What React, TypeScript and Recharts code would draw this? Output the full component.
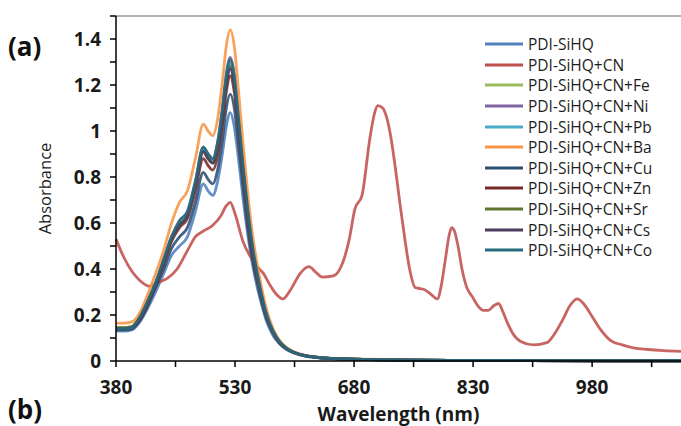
import React from 'react';
import { LineChart, Line, XAxis, YAxis, ReferenceLine } from 'recharts';

// Wavelength grid (nm) for the PDI-SiHQ family of spectra
const wavelengths = [380, 390, 400, 410, 420, 430, 440, 450, 460, 470, 480, 490, 496, 502, 508, 514, 519, 524, 529, 534, 540, 546, 552, 558, 564, 570, 578, 586, 595, 605, 620, 640, 670, 720, 800, 900, 1000, 1092];

const absPDI = [0.13, 0.13, 0.135, 0.17, 0.23, 0.30, 0.38, 0.46, 0.50, 0.54, 0.65, 0.77, 0.74, 0.72, 0.78, 0.90, 1.02, 1.08, 1.02, 0.89, 0.71, 0.55, 0.42, 0.32, 0.24, 0.17, 0.11, 0.075, 0.05, 0.034, 0.02, 0.013, 0.008, 0.005, 0.003, 0.002, 0.001, 0.001];
const absFe = [0.145, 0.145, 0.15, 0.19, 0.26, 0.34, 0.44, 0.54, 0.60, 0.64, 0.77, 0.92, 0.89, 0.87, 0.94, 1.08, 1.23, 1.30, 1.23, 1.07, 0.85, 0.65, 0.49, 0.38, 0.28, 0.20, 0.13, 0.085, 0.055, 0.037, 0.022, 0.014, 0.009, 0.005, 0.003, 0.002, 0.001, 0.001];
const absNi = [0.14, 0.14, 0.145, 0.19, 0.26, 0.34, 0.44, 0.54, 0.61, 0.65, 0.78, 0.93, 0.90, 0.88, 0.95, 1.10, 1.25, 1.32, 1.25, 1.08, 0.86, 0.66, 0.50, 0.38, 0.28, 0.20, 0.13, 0.085, 0.055, 0.037, 0.022, 0.014, 0.009, 0.005, 0.003, 0.002, 0.001, 0.001];
const absPb = [0.14, 0.14, 0.145, 0.185, 0.255, 0.34, 0.43, 0.53, 0.60, 0.64, 0.77, 0.92, 0.89, 0.87, 0.93, 1.07, 1.22, 1.29, 1.22, 1.06, 0.84, 0.65, 0.49, 0.37, 0.28, 0.19, 0.13, 0.083, 0.055, 0.037, 0.022, 0.014, 0.009, 0.005, 0.003, 0.002, 0.001, 0.001];
const absBa = [0.165, 0.165, 0.17, 0.21, 0.29, 0.38, 0.48, 0.60, 0.69, 0.74, 0.88, 1.03, 1.00, 0.98, 1.05, 1.21, 1.37, 1.44, 1.37, 1.19, 0.95, 0.73, 0.55, 0.42, 0.31, 0.22, 0.14, 0.09, 0.058, 0.039, 0.024, 0.015, 0.01, 0.006, 0.003, 0.002, 0.001, 0.001];
const absCu = [0.135, 0.135, 0.14, 0.175, 0.24, 0.32, 0.40, 0.49, 0.54, 0.58, 0.69, 0.82, 0.79, 0.77, 0.83, 0.96, 1.10, 1.16, 1.10, 0.95, 0.76, 0.58, 0.44, 0.34, 0.25, 0.18, 0.12, 0.078, 0.052, 0.035, 0.021, 0.013, 0.008, 0.005, 0.003, 0.002, 0.001, 0.001];
const absZn = [0.14, 0.14, 0.145, 0.18, 0.25, 0.33, 0.42, 0.52, 0.58, 0.62, 0.74, 0.88, 0.85, 0.83, 0.89, 1.03, 1.17, 1.24, 1.17, 1.02, 0.81, 0.62, 0.47, 0.36, 0.27, 0.19, 0.125, 0.08, 0.054, 0.036, 0.022, 0.014, 0.009, 0.005, 0.003, 0.002, 0.001, 0.001];
const absSr = [0.145, 0.145, 0.15, 0.19, 0.26, 0.34, 0.43, 0.53, 0.59, 0.63, 0.76, 0.91, 0.88, 0.86, 0.93, 1.07, 1.21, 1.28, 1.21, 1.05, 0.84, 0.64, 0.49, 0.37, 0.27, 0.19, 0.125, 0.082, 0.054, 0.036, 0.022, 0.014, 0.009, 0.005, 0.003, 0.002, 0.001, 0.001];
const absCs = [0.14, 0.14, 0.145, 0.185, 0.255, 0.335, 0.43, 0.53, 0.59, 0.63, 0.76, 0.91, 0.88, 0.86, 0.92, 1.06, 1.20, 1.27, 1.20, 1.04, 0.83, 0.64, 0.48, 0.37, 0.27, 0.19, 0.125, 0.082, 0.054, 0.036, 0.022, 0.014, 0.009, 0.005, 0.003, 0.002, 0.001, 0.001];
const absCo = [0.14, 0.14, 0.145, 0.19, 0.26, 0.34, 0.44, 0.54, 0.61, 0.65, 0.78, 0.93, 0.90, 0.88, 0.95, 1.09, 1.24, 1.31, 1.24, 1.07, 0.85, 0.66, 0.50, 0.38, 0.28, 0.20, 0.13, 0.085, 0.055, 0.037, 0.022, 0.014, 0.009, 0.005, 0.003, 0.002, 0.001, 0.001];

// PDI-SiHQ+CN has its own, denser wavelength grid
const cnWavelengths = [380, 390, 400, 410, 422, 432, 445, 457, 470, 480, 490, 502, 512, 518, 524, 530, 540, 550, 558, 566, 574, 582, 590, 600, 612, 623, 632, 640, 654, 666, 674, 681, 690, 700, 706, 710, 716, 721, 727, 732, 738, 744, 750, 757, 763, 769, 777, 785, 790, 795, 800, 803, 807, 811, 816, 822, 829, 836, 843, 849, 856, 862, 868, 874, 880, 890, 906, 923, 933, 943, 952, 961, 969, 977, 990, 1003, 1018, 1032, 1050, 1070, 1092];
const absCN = [0.53, 0.45, 0.39, 0.35, 0.325, 0.34, 0.36, 0.40, 0.48, 0.54, 0.565, 0.59, 0.63, 0.67, 0.69, 0.64, 0.52, 0.45, 0.41, 0.38, 0.33, 0.29, 0.27, 0.31, 0.38, 0.41, 0.385, 0.365, 0.37, 0.43, 0.53, 0.66, 0.72, 0.97, 1.08, 1.11, 1.10, 1.06, 0.96, 0.84, 0.68, 0.53, 0.40, 0.32, 0.315, 0.31, 0.29, 0.27, 0.33, 0.44, 0.55, 0.58, 0.56, 0.50, 0.40, 0.32, 0.28, 0.24, 0.22, 0.22, 0.24, 0.25, 0.21, 0.16, 0.12, 0.085, 0.07, 0.08, 0.12, 0.18, 0.24, 0.27, 0.25, 0.21, 0.14, 0.09, 0.07, 0.057, 0.05, 0.045, 0.042];

const seriesNames = ['PDI-SiHQ', 'PDI-SiHQ+CN', 'PDI-SiHQ+CN+Fe', 'PDI-SiHQ+CN+Ni', 'PDI-SiHQ+CN+Pb', 'PDI-SiHQ+CN+Ba', 'PDI-SiHQ+CN+Cu', 'PDI-SiHQ+CN+Zn', 'PDI-SiHQ+CN+Sr', 'PDI-SiHQ+CN+Cs', 'PDI-SiHQ+CN+Co'];
const seriesColors = ['#4F81BD', '#C0504D', '#9BBB59', '#8064A2', '#4BACC6', '#F79646', '#2C4D75', '#772C2A', '#5F7530', '#4D3B62', '#276A7C'];

const xTicks = [380, 455, 530, 605, 680, 755, 830, 905, 980, 1055];
const yTicks = [0, 0.1, 0.2, 0.3, 0.4, 0.5, 0.6, 0.7, 0.8, 0.9, 1, 1.1, 1.2, 1.3, 1.4, 1.5];

const toPoints = (xs: number[], ys: number[]) => xs.map((x, i) => ({ x, y: ys[i] }));

const seriesData = [
  toPoints(wavelengths, absPDI),
  toPoints(cnWavelengths, absCN),
  toPoints(wavelengths, absFe),
  toPoints(wavelengths, absNi),
  toPoints(wavelengths, absPb),
  toPoints(wavelengths, absBa),
  toPoints(wavelengths, absCu),
  toPoints(wavelengths, absZn),
  toPoints(wavelengths, absSr),
  toPoints(wavelengths, absCs),
  toPoints(wavelengths, absCo),
];

const FONT = '"Open Sans", "Liberation Sans", sans-serif';

export default function App() {
  return (
    <div style={{ position: 'absolute', left: 0, top: 0, width: 681, height: 426, background: '#fff', fontFamily: FONT }}>
      <LineChart width={681} height={426} margin={{ top: 16, right: 0, bottom: 0, left: 0 }}>
        <XAxis
          dataKey="x"
          type="number"
          domain={[380, 1092]}
          ticks={xTicks}
          allowDuplicatedCategory={false}
          tickFormatter={(v: number) => ((v - 380) % 150 === 0 ? String(v) : '')}
          height={65}
          tickSize={6}
          tickMargin={14}
          axisLine={{ stroke: '#000', strokeWidth: 1.5 }}
          tickLine={{ stroke: '#000', strokeWidth: 1.5 }}
          tick={{ fill: '#1a1a1a', fontSize: 19, fontWeight: 700, fontFamily: FONT }}
          label={{ value: 'Wavelength (nm)', position: 'center', dy: 21, style: { fill: '#1a1a1a', fontSize: 19, fontWeight: 700, fontFamily: FONT } }}
        />
        <YAxis
          type="number"
          domain={[0, 1.5]}
          ticks={yTicks}
          width={116}
          tickSize={6}
          tickMargin={9}
          interval={0}
          tickFormatter={(v: number) => {
            const k = Math.round(v * 10);
            return k % 2 === 0 && k < 15 ? String(k / 10) : '';
          }}
          axisLine={{ stroke: '#000', strokeWidth: 1.5 }}
          tickLine={{ stroke: '#000', strokeWidth: 1.5 }}
          tick={{ fill: '#1a1a1a', fontSize: 19, fontWeight: 700, fontFamily: FONT }}
          label={{ value: 'Absorbance', angle: -90, position: 'center', dx: -13, style: { fill: '#1a1a1a', fontSize: 16.5, fontFamily: FONT } }}
        />
        <ReferenceLine y={1.5} stroke="#9a9a9a" strokeWidth={1.5} />
        {seriesData.map((d, i) => (
          <Line
            key={seriesNames[i]}
            data={d}
            dataKey="y"
            name={seriesNames[i]}
            type="monotone"
            stroke={seriesColors[i]}
            strokeWidth={2.8}
            strokeOpacity={0.88}
            dot={false}
            activeDot={false}
            isAnimationActive={false}
          />
        ))}
      </LineChart>
      <div style={{ position: 'absolute', left: 485, top: 34, fontFamily: FONT, fontSize: 15.5, color: '#1e1e1e' }}>
        {seriesNames.map((n, i) => (
          <div key={n} style={{ display: 'flex', alignItems: 'center', height: 20.6 }}>
            <svg width={40} height={6} style={{ marginRight: 3 }}>
              <line x1={0} y1={3} x2={38} y2={3} stroke={seriesColors[i]} strokeWidth={2.8} />
            </svg>
            <span style={{ lineHeight: '20px', whiteSpace: 'nowrap' }}>{n}</span>
          </div>
        ))}
      </div>
      <div style={{ position: 'absolute', left: 8, top: 29, fontFamily: FONT, fontSize: 26, fontWeight: 700, color: '#111', lineHeight: '34px' }}>(a)</div>
      <div style={{ position: 'absolute', left: 8, top: 392, fontFamily: FONT, fontSize: 26, fontWeight: 700, color: '#111', lineHeight: '34px' }}>(b)</div>
    </div>
  );
}
